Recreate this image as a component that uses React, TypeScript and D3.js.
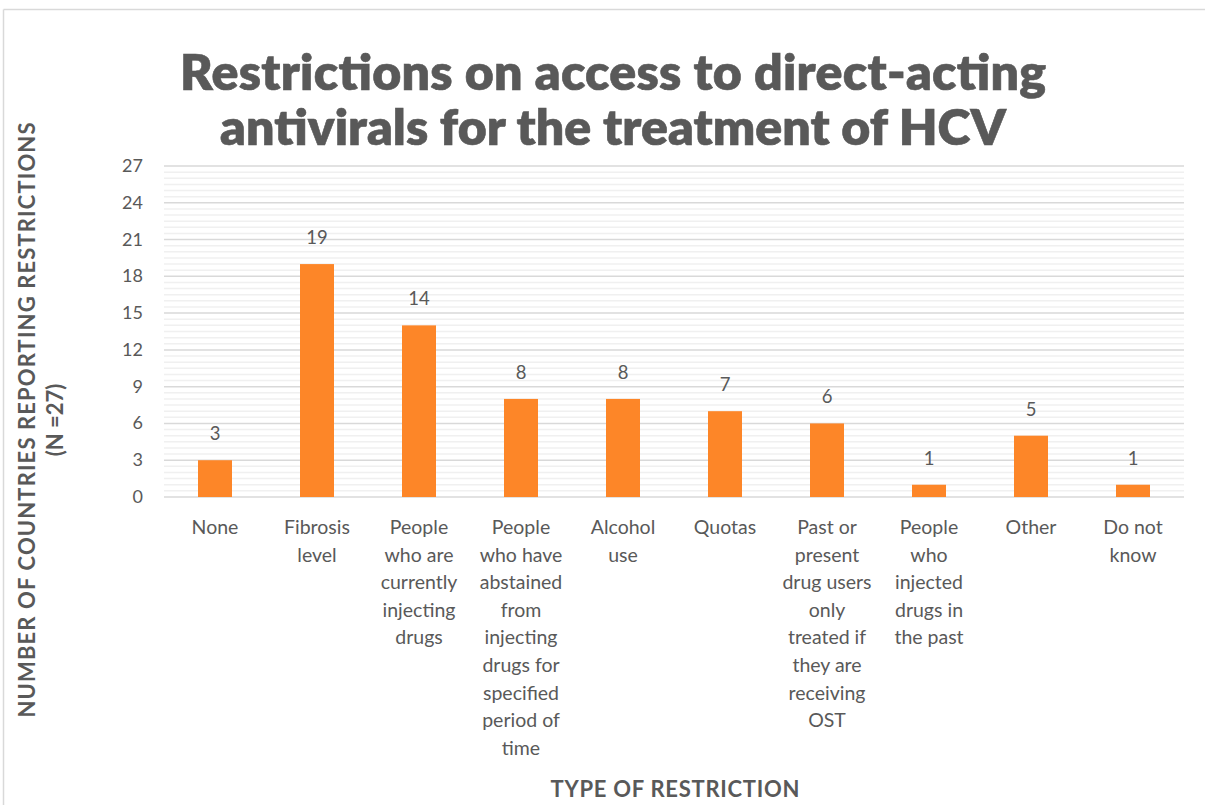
import React from "react";
import * as d3 from "d3";

const categories: string[][] = [
  ["None"],
  ["Fibrosis", "level"],
  ["People", "who are", "currently", "injecting", "drugs"],
  ["People", "who have", "abstained", "from", "injecting", "drugs for", "specified", "period of", "time"],
  ["Alcohol", "use"],
  ["Quotas"],
  ["Past or", "present", "drug users", "only", "treated if", "they are", "receiving", "OST"],
  ["People", "who", "injected", "drugs in", "the past"],
  ["Other"],
  ["Do not", "know"],
];
const values: number[] = [3, 19, 14, 8, 8, 7, 6, 1, 5, 1];
const yTicks: number[] = [0, 3, 6, 9, 12, 15, 18, 21, 24, 27];
const titleLines: string[] = ["Restrictions on access to direct-acting", "antivirals for the treatment of HCV"];
const yTitleLines: string[] = ["NUMBER OF COUNTRIES REPORTING RESTRICTIONS", "(N =27)"];
const xTitle = "TYPE OF RESTRICTION";

const W = 1205, H = 805;
const left = 164, right = 1184, top = 166, bottom = 497;
const FONT = "Lato, 'Open Sans', sans-serif";
const TXT = "#595959";

export default function App() {
  const x = d3.scaleBand<number>().domain(d3.range(values.length)).range([left, right]).paddingInner(0).paddingOuter(0);
  const y = d3.scaleLinear().domain([0, 27]).range([bottom, top]);
  const minor = d3.range(0, 27.01, 0.5).filter((v) => v % 3 !== 0);
  const bw = x.bandwidth() / 3;
  return (
    <svg width={W} height={H} style={{ position: "absolute", left: 0, top: 0, background: "#fff" }}>
      <line x1={3.5} y1={9.5} x2={W} y2={9.5} stroke="#d9d9d9" strokeWidth={1.5} />
      <line x1={3.5} y1={9.5} x2={3.5} y2={H} stroke="#d9d9d9" strokeWidth={1.5} />
      {titleLines.map((t, i) => (
        <text key={i} x={613} y={90 + i * 55} textAnchor="middle" fontFamily={FONT} fontWeight={800} fontSize={50} fill={TXT}
          stroke={TXT} strokeWidth={0.6} textLength={i === 0 ? 866 : 786} lengthAdjust="spacing">
          {t}
        </text>
      ))}
      {minor.map((v) => (
        <line key={"m" + v} x1={left} x2={right} y1={y(v)} y2={y(v)} stroke="#f0f0f0" strokeWidth={1.5} />
      ))}
      {yTicks.map((v) => (
        <g key={"t" + v}>
          <line x1={left} x2={right} y1={y(v)} y2={y(v)} stroke="#d9d9d9" strokeWidth={1.5} />
          <text x={143} y={y(v) + 6} textAnchor="end" fontFamily={FONT} fontSize={18} fill={TXT}>
            {v}
          </text>
        </g>
      ))}
      {values.map((v, i) => {
        const cx = (x(i) as number) + x.bandwidth() / 2;
        return (
          <g key={"b" + i}>
            <rect x={cx - bw / 2} y={y(v)} width={bw} height={y(0) - y(v)} fill="#fd8628" />
            <text x={cx} y={y(v) - 20} textAnchor="middle" fontFamily={FONT} fontSize={18.5} fill={TXT}>
              {v}
            </text>
            {categories[i].map((l, j) => (
              <text key={j} x={cx} y={534 + j * 27.6} textAnchor="middle" fontFamily={FONT} fontSize={19.5} fill={TXT}>
                {l}
              </text>
            ))}
          </g>
        );
      })}
      {yTitleLines.map((t, i) => (
        <text key={i} transform={`translate(${35 + i * 28},420) rotate(-90)`} textAnchor="middle" fontFamily={FONT} fontWeight={700} fontSize={22} fill={TXT}
          textLength={i === 0 ? 595 : undefined} lengthAdjust="spacing">
          {t}
        </text>
      ))}
      <text x={675} y={797} textAnchor="middle" fontFamily={FONT} fontWeight={700} fontSize={22} fill={TXT} textLength={249} lengthAdjust="spacing">
        {xTitle}
      </text>
    </svg>
  );
}
